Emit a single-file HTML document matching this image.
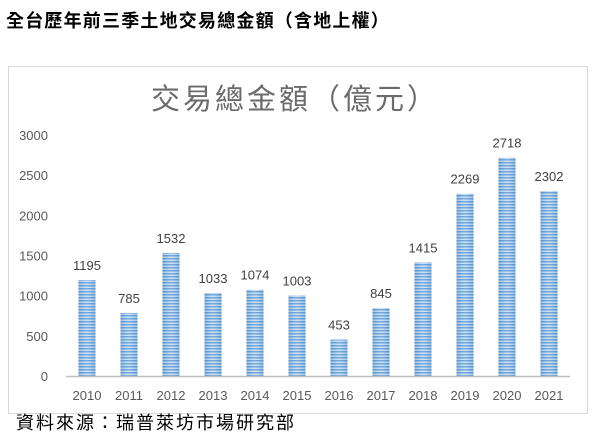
<!DOCTYPE html>
<html><head><meta charset="utf-8"><style>
body{margin:0;width:600px;height:438px;background:#fff;overflow:hidden;font-family:"Liberation Sans","Noto Sans CJK TC",sans-serif;}
#hdr{position:absolute;left:6px;top:7px;font-size:18px;letter-spacing:1.2px;font-weight:bold;color:#000;}
#ftr{position:absolute;left:16px;top:409px;font-size:18px;letter-spacing:2px;color:#000;}
svg{position:absolute;left:0;top:0;}
</style></head><body>
<div id="hdr">全台歷年前三季土地交易總金額（含地上權）</div>
<svg width="600" height="438">
<defs>
<pattern id="stripe" width="4" height="3" patternUnits="userSpaceOnUse">
<rect width="4" height="3" fill="#c5dcf2"/><rect width="4" height="1.5" fill="#5f9bd6"/>
</pattern>
<linearGradient id="shade" x1="0" x2="1" y1="0" y2="0">
<stop offset="0" stop-color="#2e75b6" stop-opacity="0.25"/>
<stop offset="0.5" stop-color="#fff" stop-opacity="0.15"/>
<stop offset="1" stop-color="#2e75b6" stop-opacity="0.25"/>
</linearGradient>
</defs>
<rect x="8.5" y="66.5" width="579" height="347" fill="#fff" stroke="#d9d9d9"/>
<text x="295" y="109" text-anchor="middle" font-size="29" fill="#6b6b6b" letter-spacing="3" font-family="'Liberation Sans','Noto Sans CJK TC',sans-serif">交易總金額（億元）</text>
<g id="g"></g>
</svg>
<div id="ftr">資料來源：瑞普萊坊市場研究部</div>
<script>
const categories=["2010","2011","2012","2013","2014","2015","2016","2017","2018","2019","2020","2021"];
const values=[1195,785,1532,1033,1074,1003,453,845,1415,2269,2718,2302];
const yTicks=[0,500,1000,1500,2000,2500,3000];
const g=document.getElementById('g');
const NS='http://www.w3.org/2000/svg';
const x0=66,x1=570,yBase=376,yTop=135,yMax=3000;
const step=(x1-x0)/categories.length,bw=17;
const y=v=>yBase-(v/yMax)*(yBase-yTop);
const xc=i=>x0+step*(i+0.5);
function el(t,a,txt){const e=document.createElementNS(NS,t);for(const k in a)e.setAttribute(k,a[k]);if(txt!=null)e.textContent=txt;g.appendChild(e);return e;}
yTicks.forEach(t=>{
 const e=el('text',{x:48,y:y(t)+5,'text-anchor':'end','font-size':13,fill:'#595959'},t);
 
 
});
values.forEach((v,i)=>{
 const b=el('rect',{x:xc(i)-bw/2,y:y(v),width:bw,height:yBase-y(v),fill:'url(#stripe)'});
 
 
 const s=el('rect',{x:xc(i)-bw/2,y:y(v),width:bw,height:yBase-y(v),fill:'url(#shade)'});
 
 
 const l=el('text',{x:xc(i),y:y(v)-10,'text-anchor':'middle','font-size':13,fill:'#404040'},v);
 
 
 const c=el('text',{x:xc(i),y:400,'text-anchor':'middle','font-size':13,fill:'#595959'},categories[i]);
 
 
});
const ax=el('line',{x1:x0,x2:x1,y1:yBase+0.5,y2:yBase+0.5,stroke:'#bfbfbf','stroke-width':1.5});


</script>
</body></html>
